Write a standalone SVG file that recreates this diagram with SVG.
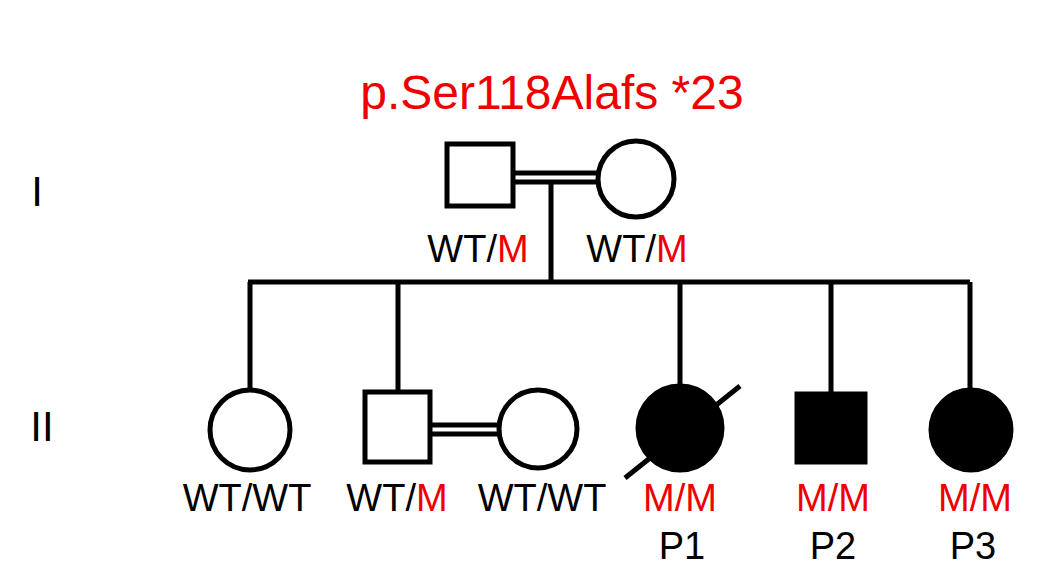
<svg xmlns="http://www.w3.org/2000/svg" width="1041" height="582" viewBox="0 0 1041 582">
<style>
.s{fill:#fff;stroke:#000;stroke-width:5}
.f{fill:#000;stroke:#000;stroke-width:5}
.l{stroke:#000;stroke-width:5;fill:none}
text{font-family:"Liberation Sans",Arial,sans-serif;font-size:38px;fill:#000;text-anchor:middle}
.r{fill:#e00}
</style>
<rect width="1041" height="582" fill="#fff"/>
<text x="552" y="109" class="r" style="font-size:48px">p.Ser118Alafs *23</text>
<text x="37" y="206" style="font-size:42px">I</text>
<text x="42" y="441" style="font-size:42px">II</text>
<g id="connectors">
<path class="l" d="M513 173H597M513 182H597M551 182V282M248 282H970M250 282V390M398 282V392M680 282V386M831 282V394M970 282V390M430 425H500M430 434H500"/>
</g>
<g id="I1"><rect class="s" x="447" y="144" width="66" height="62"/><text x="478" y="262">WT/<tspan class="r">M</tspan></text></g>
<g id="I2"><circle class="s" cx="636" cy="179" r="38"/><text x="637" y="262">WT/<tspan class="r">M</tspan></text></g>
<g id="II1"><circle class="s" cx="250" cy="430" r="40"/><text x="247" y="511">WT/WT</text></g>
<g id="II2"><rect class="s" x="365" y="392" width="65" height="70"/><text x="397" y="511">WT/<tspan class="r">M</tspan></text></g>
<g id="II3"><circle class="s" cx="538" cy="429" r="39"/><text x="542" y="511">WT/WT</text></g>
<g id="P1"><circle class="f" cx="680" cy="428" r="42"/><path class="l" d="M625 478L740 386"/><text x="680" y="511" class="r">M/M</text><text x="682" y="559">P1</text></g>
<g id="P2"><rect class="f" x="797" y="394" width="68" height="68"/><text x="833" y="511" class="r">M/M</text><text x="833" y="559">P2</text></g>
<g id="P3"><circle class="f" cx="971" cy="430" r="40"/><text x="975" y="511" class="r">M/M</text><text x="973" y="559">P3</text></g>
</svg>
